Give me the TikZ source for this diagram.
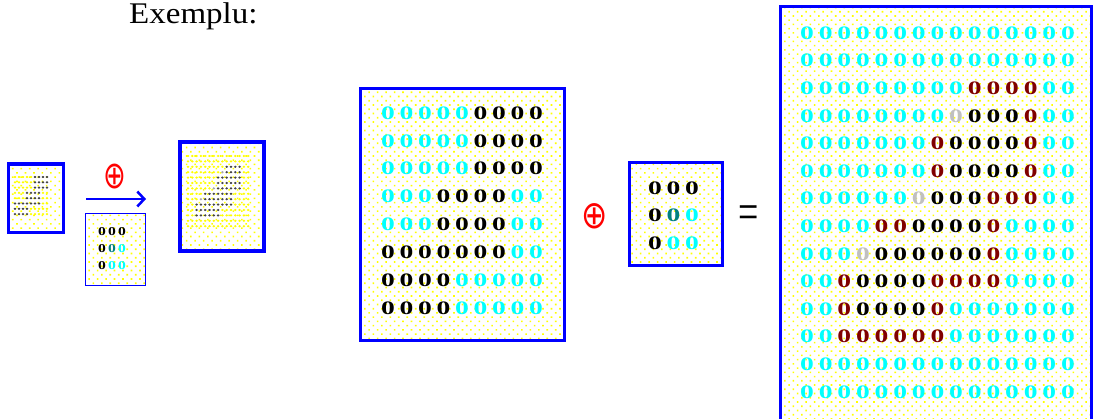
\documentclass[tikz,border=0pt]{standalone}
\usepackage{fontspec}
\setmainfont{Liberation Serif}
\newfontfamily\symfont{DejaVu Sans}
\usetikzlibrary{patterns.meta,arrows.meta}
\definecolor{C}{HTML}{00FFFF}
\definecolor{K}{HTML}{000000}
\definecolor{R}{HTML}{800000}
\definecolor{G}{HTML}{C0C0C0}
\definecolor{T}{HTML}{008080}
\definecolor{tC}{HTML}{FFFF00}
\definecolor{tK}{HTML}{454545}
\definecolor{tR}{HTML}{454545}
\definecolor{tG}{HTML}{A8A8A8}
\definecolor{tT}{HTML}{454545}
\definecolor{bbl}{HTML}{0000FF}
\definecolor{ydot}{HTML}{FFFF00}
\newcommand\zerodig{\scalebox{1.45}[1]{0}}
\def\midgrid{{C,C,C,C,C,K,K,K,K},{C,C,C,C,C,K,K,K,K},{C,C,C,C,C,K,K,K,K},{C,C,C,K,K,K,K,C,C},{C,C,C,K,K,K,K,C,C},{K,K,K,K,K,K,K,C,C},{K,K,K,K,C,C,C,C,C},{K,K,K,K,C,C,C,C,C}}
\def\resgrid{{C,C,C,C,C,C,C,C,C,C,C,C,C,C,C},{C,C,C,C,C,C,C,C,C,C,C,C,C,C,C},{C,C,C,C,C,C,C,C,C,R,R,R,R,C,C},{C,C,C,C,C,C,C,C,G,K,K,K,R,C,C},{C,C,C,C,C,C,C,R,K,K,K,K,R,C,C},{C,C,C,C,C,C,C,R,K,K,K,K,R,C,C},{C,C,C,C,C,C,G,K,K,K,R,R,R,C,C},{C,C,C,C,R,R,K,K,K,K,R,C,C,C,C},{C,C,C,G,K,K,K,K,K,K,R,C,C,C,C},{C,C,R,K,K,K,K,R,R,R,R,C,C,C,C},{C,C,R,K,K,K,K,R,C,C,C,C,C,C,C},{C,C,R,R,R,R,R,R,C,C,C,C,C,C,C},{C,C,C,C,C,C,C,C,C,C,C,C,C,C,C},{C,C,C,C,C,C,C,C,C,C,C,C,C,C,C}}
\def\kergrid{{K,K,K},{K,T,C},{K,C,C}}
\begin{document}
\begin{tikzpicture}[x=1pt,y=-1pt,
  panel/.style={draw=bbl, line width=#1, inner sep=0pt, outer sep=0pt,
    pattern={Dots[distance=6pt,angle=45,radius=1.15pt]}, pattern color=ydot},
  dig/.style={inner sep=0pt, font=\fontsize{19}{19}\selectfont\bfseries, text=#1},
  sdig/.style={inner sep=0pt, font=\fontsize{12}{12}\selectfont\bfseries, text=#1},
  opsym/.style={inner sep=0pt, text=red},
  conn/.style={draw=bbl, line width=2.5pt, -{Straight Barb[length=7pt,width=15pt]}}]
\useasboundingbox (0,0) rectangle (1094,419);
\fill[white] (0,0) rectangle (1094,419);

% title
\node[anchor=base west, inner sep=0pt, font=\fontsize{30}{30}\selectfont] (title) at (129,24) {\scalebox{1.1}[1]{Exemplu:}};

% ---------- small overview ----------
\node[panel=3.3pt, minimum width=55pt, minimum height=68.5pt] (thA) at (35.8,198.3) {};
\foreach \row [count=\ri] in \midgrid {
  \foreach \cl [count=\ci] in \row {
    \fill[t\cl] ({15+(\ci-1)*4},{177+(\ri-1)*5.3}) ellipse (1.4 and 1.2);
  }
}
\node[panel=1pt, minimum width=60pt, minimum height=72.5pt] (thB) at (115,249.5) {};
\foreach \row [count=\ri] in \kergrid {
  \foreach \cl [count=\ci] in \row {
    \node[sdig=\cl] (sk-\ri-\ci) at ({102+(\ci-1)*10},{232+(\ri-1)*17}) {\scalebox{1.3}[1]{0}};
  }
}
\coordinate (arA) at (86,199);
\coordinate (arB) at (146,199);
\draw[conn] (arA) -- (arB);
\node[opsym, font=\fontsize{34}{34}\selectfont\symfont] (op1) at (115,176.5) {\scalebox{0.8}[1.12]{⊕}};

\node[panel=4pt, minimum width=84pt, minimum height=109pt] (thC) at (221.5,196.5) {};
\foreach \row [count=\ri] in \resgrid {
  \foreach \cl [count=\ci] in \row {
    \fill[t\cl] ({188+(\ci-1)*4.3},{156+(\ri-1)*5.4}) ellipse (1.4 and 1.2);
  }
}

% ---------- large example ----------
\node[panel=3pt, minimum width=204pt, minimum height=251pt] (mid) at (462.5,214.5) {};
\foreach \row [count=\ri] in \midgrid {
  \foreach \cl [count=\ci] in \row {
    \node[dig=\cl] (m-\ri-\ci) at ({388+(\ci-1)*18.5},{113+(\ri-1)*27.86}) {\zerodig};
  }
}

\node[opsym, font=\fontsize{37}{37}\selectfont\symfont] (op2) at (595,216) {\scalebox{0.85}[1.05]{⊕}};

\node[panel=3pt, minimum width=93pt, minimum height=103pt] (ker) at (675.5,214.5) {};
\foreach \row [count=\ri] in \kergrid {
  \foreach \cl [count=\ci] in \row {
    \node[dig=\cl] (k-\ri-\ci) at ({655+(\ci-1)*18.5},{188+(\ri-1)*27.5}) {\zerodig};
  }
}

\node[inner sep=0pt, font=\fontsize{40}{40}\selectfont] (eq) at (749,218) {\scalebox{0.9}[1.3]{=}};

\node[panel=3pt, minimum width=311pt, minimum height=420pt] (res) at (935.5,217) {};
\foreach \row [count=\ri] in \resgrid {
  \foreach \cl [count=\ci] in \row {
    \node[dig=\cl] (r-\ri-\ci) at ({807+(\ci-1)*18.64},{33+(\ri-1)*27.6}) {\zerodig};
  }
}
\end{tikzpicture}
\end{document}
